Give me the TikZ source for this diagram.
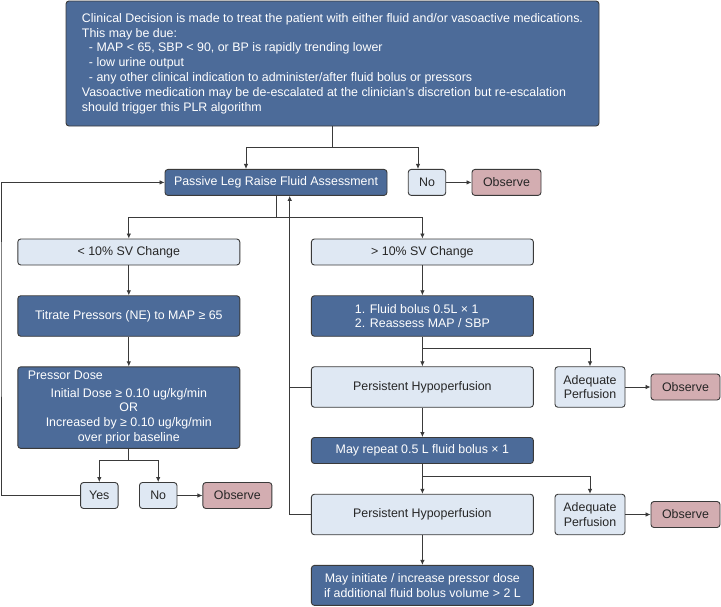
\documentclass[tikz,border=0pt]{standalone}
\usepackage{fontspec}
\setmainfont{Liberation Sans}
\usepackage{xcolor}
\usetikzlibrary{arrows.meta}
\definecolor{boxdark}{HTML}{4C6B99}
\definecolor{boxlight}{HTML}{DFE8F3}
\definecolor{boxpink}{HTML}{D3ADB1}
\definecolor{edge}{HTML}{3A3A3A}

\begin{document}
\begin{tikzpicture}[x=1pt,y=-1pt,
	box/.style={draw=edge,line width=0.9pt,rounded corners=3pt,inner sep=2pt,align=center,font=\fontsize{12.4}{14.8}\selectfont,minimum height=26pt},
	dark/.style={box,fill=boxdark,text=white},
	light/.style={box,fill=boxlight,text=black!85},
	pink/.style={box,fill=boxpink,text=black!85},
	line/.style={draw=edge,line width=0.8pt},
	arr/.style={line,-{Latex[length=5pt,width=4.5pt]}}]
	\useasboundingbox (0,0) rectangle (721,606);

	\node[dark,minimum width=533pt,minimum height=125pt,align=left] (decision) at (332.5,63.5) {Clinical Decision is made to treat the patient with either fluid and/or vasoactive medications.\\This may be due:\\\hspace*{7pt}- MAP < 65, SBP < 90, or BP is rapidly trending lower\\\hspace*{7pt}- low urine output\\\hspace*{7pt}- any other clinical indication to administer/after fluid bolus or pressors\\Vasoactive medication may be de-escalated at the clinician’s discretion but re-escalation\\should trigger this PLR algorithm};

	\node[dark,minimum width=222pt] (passive) at (276,182.4) {Passive Leg Raise Fluid Assessment};
	\node[light,minimum width=37.5pt] (no1) at (427,182.4) {No};
	\node[pink,minimum width=69pt] (obs1) at (506.5,182.4) {Observe};

	\node[light,minimum width=222pt] (lt) at (128.8,252) {< 10\% SV Change};
	\node[light,minimum width=222pt] (gt) at (422.4,252) {> 10\% SV Change};
	\node[dark,minimum width=222pt,minimum height=40.5pt] (titrate) at (128.8,316) {Titrate Pressors (NE) to MAP ≥ 65};
	\node[dark,minimum width=222pt,minimum height=40.5pt,align=left] (bolus) at (422.4,316) {1. Fluid bolus 0.5L × 1\\2. Reassess MAP / SBP};
	\node[dark,minimum width=222pt,minimum height=81.6pt] (pressor) at (128.8,407.6) {\makebox[202pt][l]{Pressor Dose}\\[2.7pt]Initial Dose ≥ 0.10 ug/kg/min\\OR\\Increased by ≥ 0.10 ug/kg/min\\over prior baseline};

	\node[light,minimum width=222pt,minimum height=40.5pt] (hypo1) at (422.4,387) {Persistent Hypoperfusion};
	\node[light,minimum width=70pt,minimum height=40.5pt] (adeq1) at (590,387) {Adequate\\Perfusion};
	\node[pink,minimum width=69pt] (obs2) at (685.5,387) {Observe};
	\node[dark,minimum width=222pt] (rep) at (422.4,450.5) {May repeat 0.5 L fluid bolus × 1};
	\node[light,minimum width=222pt,minimum height=40.5pt] (hypo2) at (422.4,514.5) {Persistent Hypoperfusion};
	\node[light,minimum width=70pt,minimum height=40.5pt] (adeq2) at (590,514.5) {Adequate\\Perfusion};
	\node[pink,minimum width=69pt] (obs3) at (685.5,514.5) {Observe};
	\node[dark,minimum width=222pt,minimum height=40pt] (initiate) at (422.4,585.4) {May initiate / increase pressor dose\\if additional fluid bolus volume > 2 L};

	\node[light,minimum width=37.5pt] (yes) at (99.3,495.5) {Yes};
	\node[light,minimum width=37.5pt] (no2) at (158.2,495.5) {No};
	\node[pink,minimum width=69pt] (obs4) at (237.4,495.5) {Observe};

	\coordinate (j1) at (332.5,147);
	\coordinate (j2) at (276,217);
	\coordinate (j3) at (128.8,460.8);
	\coordinate (j4) at (422.4,348.7);
	\coordinate (j5) at (422.4,476);
	\coordinate (lft) at (1,300);
	\coordinate (up) at ([xshift=13.7]passive.south);

	\draw[line] (decision.south) -- (j1);
	\draw[arr] (j1) -| ([xshift=-30]passive.north);
	\draw[arr] (j1) -| ([xshift=-9]no1.north);
	\draw[arr] (no1) -- (obs1);

	\draw[line] (passive.south) -- (j2);
	\draw[arr] (j2) -| (lt.north);
	\draw[arr] (j2) -| (gt.north);
	\draw[arr] (lt) -- (titrate);
	\draw[arr] (titrate) -- (pressor);
	\draw[line] (pressor.south) -- (j3);
	\draw[arr] (j3) -| (yes.north);
	\draw[arr] (j3) -| (no2.north);
	\draw[arr] (no2) -- (obs4);
	\draw[arr] (yes.west) -| (lft) |- (passive.west);

	\draw[arr] (gt) -- (bolus);
	\draw[line] (bolus.south) -- (j4);
	\draw[arr] (j4) -- (hypo1.north);
	\draw[arr] (j4) -| (adeq1.north);
	\draw[arr] (adeq1) -- (obs2);
	\draw[arr] (hypo1) -- (rep);
	\draw[line] (rep.south) -- (j5);
	\draw[arr] (j5) -- (hypo2.north);
	\draw[arr] (j5) -| (adeq2.north);
	\draw[arr] (adeq2) -- (obs3);
	\draw[arr] (hypo2) -- (initiate);

	\draw[line] (hypo1.west) -- (hypo1.west -| up);
	\draw[arr] (hypo2.west) -| (up);
\end{tikzpicture}
\end{document}
